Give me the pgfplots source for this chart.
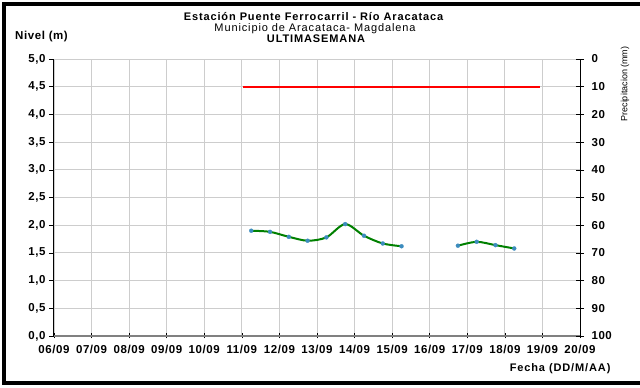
\documentclass[border=0pt]{standalone}
\usepackage{pgfplots}
\pgfplotsset{compat=1.18}
\usepackage{fontspec}
\setmainfont{Liberation Sans}
\newfontfamily\lsA[LetterSpace=8]{Liberation Sans}
\newfontfamily\lsB[LetterSpace=5]{Liberation Sans}
\definecolor{lgreen}{RGB}{0,128,0}
\definecolor{mblue}{RGB}{60,140,190}
\definecolor{gridgray}{RGB}{205,205,205}
\begin{document}
\begin{tikzpicture}[x=1pt,y=1pt]
\useasboundingbox (0,0) rectangle (640,388);
% frame
\draw[line width=4pt] (660,383.5) -- (4,383.5) -- (4,5.3) -- (660,5.3);
% titles
\node[font=\lsA\bfseries\fontsize{11}{11}\selectfont] at (313.5,371.3) {Estación Puente Ferrocarril - Río Aracataca};
\node[font=\lsA\fontsize{11}{11}\selectfont] at (315,359.5) {Municipio de Aracataca- Magdalena};
\node[font=\lsA\bfseries\fontsize{11}{11}\selectfont] at (316,349.5) {ULTIMASEMANA};
\node[font=\lsB\bfseries\fontsize{11.5}{11.5}\selectfont] at (41.5,351) {Nivel (m)};
\node[font=\lsA\bfseries\fontsize{11}{11}\selectfont, anchor=east] at (614,19) {Fecha (DD/M/AA)};
\node[font=\fontsize{9}{9}\selectfont, rotate=90] at (625,304) {Precipitacion (mm)};
\begin{axis}[
  at={(54pt,52pt)}, anchor=south west,
  scale only axis, width=526pt, height=277pt,
  xmin=6, xmax=20, ymin=0, ymax=5,
  xtick={6,...,20},
  xticklabels={06/09,07/09,08/09,09/09,10/09,11/09,12/09,13/09,14/09,15/09,16/09,17/09,18/09,19/09,20/09},
  ytick={0,0.5,...,5},
  yticklabel style={/pgf/number format/.cd, fixed, fixed zerofill, precision=1, use comma},
  /pgf/number format/assume math mode=true,
  ticklabel style={font=\lsB\bfseries\fontsize{11.5}{11.5}\selectfont},
  axis x line*=bottom, axis y line*=left,
  x axis line style={draw=gray, line width=1.6pt, -},
  y axis line style={draw=black, line width=1pt, -},
  tick style={black, line width=0.6pt},
  xtick align=center, ytick align=outside,
  major tick length=5pt,
  grid=major, grid style={gridgray, line width=0.9pt},
  xticklabel style={yshift=-3pt},
  clip=false,
]
\addplot[red, line width=2pt] coordinates {(11.03,4.5) (18.93,4.5)};
\addplot[lgreen, line width=2pt, smooth, mark=*, mark size=2pt, mark options={draw=mblue, fill=mblue, line width=0.3pt}] coordinates {
(11.25,1.90) (11.75,1.88) (12.25,1.79) (12.75,1.72) (13.25,1.78) (13.75,2.02) (14.25,1.81) (14.75,1.67) (15.25,1.62)};
\addplot[lgreen, line width=2pt, smooth, mark=*, mark size=2pt, mark options={draw=mblue, fill=mblue, line width=0.3pt}] coordinates {
(16.75,1.63) (17.25,1.70) (17.75,1.64) (18.25,1.58)};
\end{axis}
\begin{axis}[
  at={(54pt,52pt)}, anchor=south west,
  scale only axis, width=526pt, height=277pt,
  xmin=6, xmax=20, ymin=0, ymax=100, y dir=reverse,
  axis x line=none, axis y line*=right,
  ytick={0,10,...,100},
  /pgf/number format/assume math mode=true,
  ticklabel style={font=\lsB\bfseries\fontsize{11.5}{11.5}\selectfont},
  y axis line style={draw=black, line width=1pt, -},
  tick style={black, line width=0.6pt},
  ytick align=center, major tick length=8pt,
  yticklabel style={xshift=4pt},
]
\end{axis}
\end{tikzpicture}
\end{document}
